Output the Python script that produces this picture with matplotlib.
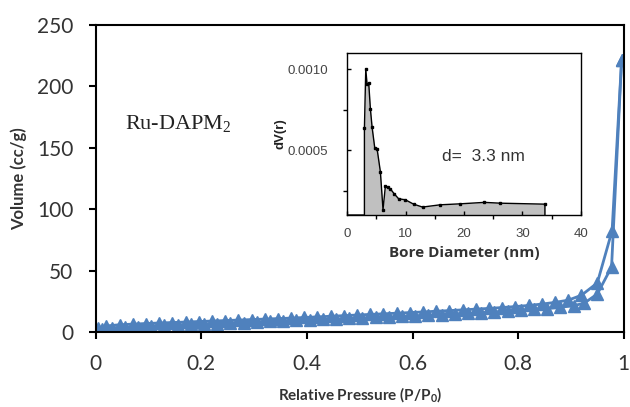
import numpy as np
import matplotlib
matplotlib.use('Agg')
import matplotlib.pyplot as plt

# isotherm: adsorption (lower branch)
p_ads = [0.003, 0.012, 0.03, 0.055, 0.08, 0.105, 0.13, 0.155, 0.18, 0.205, 0.23,
         0.255, 0.28, 0.305, 0.33, 0.355, 0.38, 0.405, 0.43, 0.455, 0.48, 0.505,
         0.53, 0.555, 0.58, 0.605, 0.63, 0.655, 0.68, 0.705, 0.73, 0.755, 0.78,
         0.805, 0.83, 0.855, 0.88, 0.905, 0.925, 0.95, 0.977, 0.996]
v_ads = [0.8, 2.6, 3.4, 4.0, 4.5, 5.0, 5.4, 5.8, 6.2, 6.6, 7.0, 7.4, 7.8, 8.3,
         8.7, 9.1, 9.5, 9.9, 10.3, 10.7, 11.1, 11.5, 11.9, 12.3, 12.8, 13.3, 13.8,
         14.3, 14.8, 15.3, 15.8, 16.4, 17.0, 17.7, 18.4, 19.2, 20.2, 21.5, 23.5,
         31.0, 53.0, 221.0]

# desorption (upper branch)
p_des = [0.996, 0.978, 0.95, 0.92, 0.895, 0.87, 0.845, 0.82, 0.795, 0.77, 0.745,
         0.72, 0.695, 0.67, 0.645, 0.62, 0.595, 0.57, 0.545, 0.52, 0.495, 0.47,
         0.445, 0.42, 0.395, 0.37, 0.345, 0.32, 0.295, 0.27, 0.245, 0.22, 0.195,
         0.17, 0.145, 0.12, 0.095, 0.07, 0.045, 0.02, 0.005]
v_des = [221.0, 82.5, 40.0, 30.0, 26.0, 24.2, 22.8, 21.7, 20.8, 20.0, 19.3, 18.7,
         18.1, 17.5, 17.0, 16.4, 15.9, 15.4, 14.9, 14.4, 13.9, 13.4, 12.9, 12.4,
         11.9, 11.4, 11.0, 10.6, 10.2, 9.8, 9.4, 9.0, 8.6, 8.2, 7.8, 7.4, 7.0,
         6.5, 6.0, 5.0, 3.0]

# pore size distribution (inset)
d_nm = [2.96, 3.19, 3.41, 3.70, 3.98, 4.27, 4.72, 5.12, 5.69, 6.14, 6.54, 6.94,
        7.40, 8.08, 8.82, 9.96, 11.38, 12.9, 15.93, 19.34, 23.5, 26.2, 33.85]
dv = [0.000637, 0.00100, 0.000908, 0.000912, 0.000755, 0.000643, 0.000516,
      0.00051, 0.000367, 0.000133, 0.000276, 0.000271, 0.000261, 0.00023,
      0.0002, 0.000194, 0.000167, 0.000149, 0.000163, 0.000169, 0.000178,
      0.000173, 0.000167]

blue = '#4F81BD'
tickcol = '#333333'

fig = plt.figure(figsize=(6.3, 4.07), dpi=100)
ax = fig.add_axes([0.152, 0.184, 0.838, 0.755])

ax.plot(p_ads, v_ads, color=blue, lw=2, marker='^', ms=9, mec=blue, mfc=blue)
ax.plot(p_des, v_des, color=blue, lw=2, marker='^', ms=9, mec=blue, mfc=blue)

ax.set_xlim(0, 1)
ax.set_ylim(0, 250)
ax.set_xticks([0, 0.2, 0.4, 0.6, 0.8, 1])
ax.set_xticklabels(['0', '0.2', '0.4', '0.6', '0.8', '1'])
ax.set_yticks([0, 50, 100, 150, 200, 250])
for s in ax.spines.values():
    s.set_linewidth(1.5)
    s.set_color('black')
ax.tick_params(direction='out', length=5, width=1.5, colors='black',
               labelcolor=tickcol, labelsize=15, pad=11)
for lab in ax.get_xticklabels() + ax.get_yticklabels():
    lab.set_family('Lato')

ax.set_xlabel('Relative Pressure (P/P$_\\mathregular{0}$)', family='Lato',
              fontweight='bold', fontsize=11, color=tickcol, labelpad=8)
ax.set_ylabel('Volume (cc/g)', family='Lato', fontweight='bold', fontsize=12,
              color=tickcol, labelpad=7)

ax.text(0.055, 0.66, 'Ru-DAPM$_\\mathregular{2}$', transform=ax.transAxes,
        family='Liberation Serif', fontsize=16, color='#222222')

# inset
ins = fig.add_axes([0.551, 0.4717, 0.371, 0.3983])
base = 0.0001
ins.fill_between(d_nm, dv, base, color='#C0C0C0', lw=0)
ins.plot([0] + [d_nm[0]] + d_nm + [d_nm[-1]], [base, base] + dv + [base],
         color='black', lw=1)
ins.plot(d_nm, dv, ls='none', marker='s', ms=1.8, color='black')
ins.set_xlim(0, 40)
ins.set_ylim(0.0001, 0.0011)
ins.set_xticks([0, 10, 20, 30, 40])
ins.set_xticks([5, 15, 25, 35], minor=True)
ins.set_yticks([0.0005, 0.0010])
ins.set_yticks([0.00025, 0.00075], minor=True)
ins.set_yticklabels(['0.0005', '0.0010'])
for s in ins.spines.values():
    s.set_linewidth(1)
ins.tick_params(which='major', direction='in', length=3, width=1)
ins.tick_params(which='minor', direction='out', length=3, width=1)
ins.tick_params(axis='x', which='major', labelsize=9.5, labelcolor='#444444', pad=9.5)
ins.tick_params(axis='y', which='major', labelsize=9.5, labelcolor='#444444', pad=13.5)
for lab in ins.get_xticklabels() + ins.get_yticklabels():
    lab.set_family('Liberation Sans')
ins.set_xlabel('Bore Diameter (nm)', family='Open Sans', fontweight='bold',
               fontsize=11, color='#333333', labelpad=4)
ins.set_ylabel('dV(r)', family='Liberation Sans', fontweight='bold',
               fontsize=9.5, color='#222222', labelpad=1)
ins.text(16.2, 0.00046, 'd=  3.3 nm', family='Liberation Sans', fontsize=12.5,
         color='#333333', va='center')

fig.savefig('out.png', dpi=100)
